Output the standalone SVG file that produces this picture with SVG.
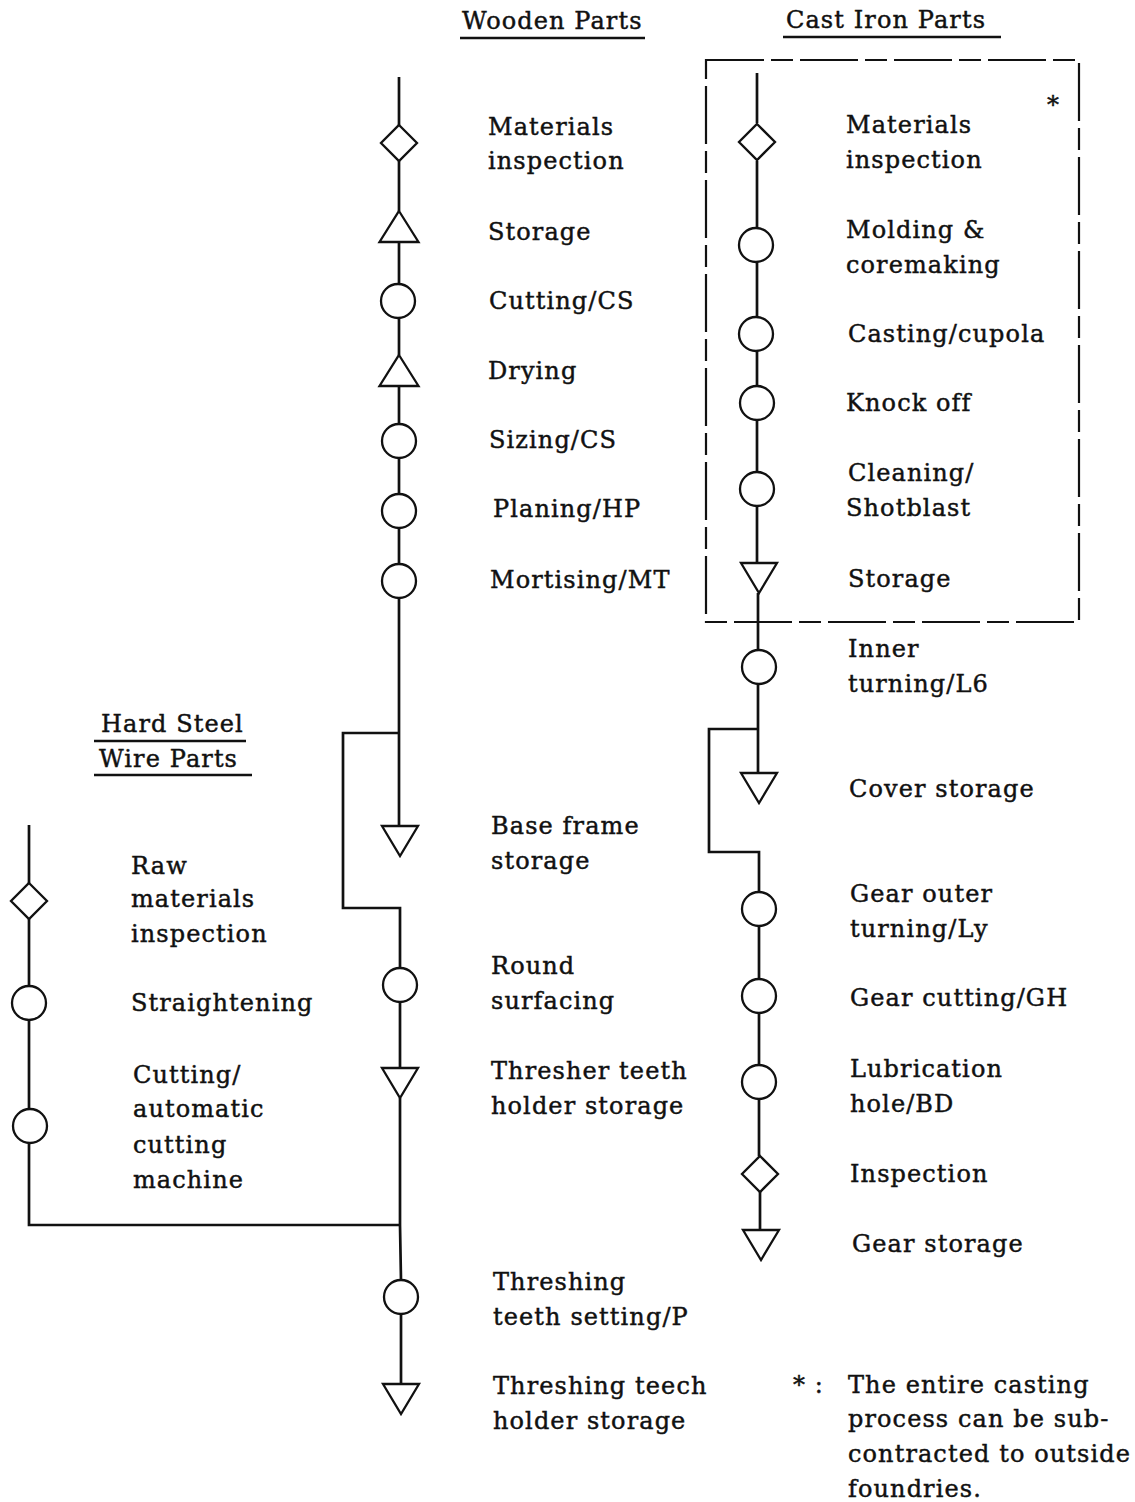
<svg xmlns="http://www.w3.org/2000/svg" xmlns:xlink="http://www.w3.org/1999/xlink" width="1135" height="1502" viewBox="0 0 1135 1502">
  <style>
    .lbl { font-family: "DejaVu Serif", "Liberation Serif", serif; font-size: 24px; letter-spacing: 1.1px; fill: #111; stroke: #111; stroke-width: 0.45px; }
    .hdr { font-family: "DejaVu Serif", "Liberation Serif", serif; font-size: 24px; letter-spacing: 1.1px; fill: #111; stroke: #111; stroke-width: 0.45px; }
    .ln { fill: none; stroke: #111; stroke-width: 2.7; }
    .sym { fill: #fff; stroke: #111; stroke-width: 2.3; }
    .ul { stroke: #111; stroke-width: 2.3; }
    .box { fill: none; stroke: #111; stroke-width: 2.2; stroke-dasharray: 58 7 22 7; }
  </style>
  <defs>
    <!-- operation -->
    <circle id="op" cx="0" cy="0" r="17" class="sym"/>
    <!-- inspection -->
    <polygon id="insp" points="0,-18 18,0 0,18 -18,0" class="sym"/>
    <!-- storage / delay (upward) -->
    <polygon id="up" points="0,-15.5 19.5,15.5 -19.5,15.5" class="sym"/>
    <!-- storage (downward) -->
    <polygon id="down" points="-18,-15 18,-15 0,15" class="sym"/>
  </defs>

  <rect width="1135" height="1502" fill="#fff"/>

  <!-- column headings -->
  <g id="headings">
    <text class="hdr" x="462" y="29">Wooden Parts</text>
    <line class="ul" x1="460" y1="38" x2="645" y2="38"/>
    <text class="hdr" x="786" y="28">Cast Iron Parts</text>
    <line class="ul" x1="783" y1="37" x2="1001" y2="37"/>
    <text class="hdr" x="101" y="732">Hard Steel</text>
    <line class="ul" x1="94" y1="741" x2="246" y2="741"/>
    <text class="hdr" x="99" y="767">Wire Parts</text>
    <line class="ul" x1="94" y1="775" x2="252" y2="775"/>
  </g>

  <!-- subcontract boundary -->
  <rect id="casting-box" class="box" x="706" y="60" width="373" height="562"/>

  <!-- flow lines -->
  <g id="connectors">
    <!-- wooden parts -->
    <path class="ln" d="M399,77 V125 M399,161 V211 M399,242 V284 M399,318 V355 M399,386 V424 M399,458 V494 M399,528 V564 M399,598 V826"/>
    <path class="ln" d="M399,733 H343 V908 H400 V968"/>
    <path class="ln" d="M400,1002 V1068 M400,1098 V1225 L401,1280 M401,1314 V1384"/>
    <!-- hard steel wire parts -->
    <path class="ln" d="M29,825 V883 M29,919 V986 M29,1020 V1109 M29,1143 V1225 H400"/>
    <!-- cast iron parts -->
    <path class="ln" d="M757,73 V123 M757,161 V228 M757,262 V317 M757,351 V386 M757,420 V472 M757,506 V563 M758,593 V650 M758,684 V773"/>
    <path class="ln" d="M758,729 H709 V852 H759 V892"/>
    <path class="ln" d="M759,926 V979 M759,1013 V1065 M759,1099 V1156 M760,1192 V1230"/>
  </g>

  <!-- wooden parts -->
  <g id="w-materials-inspection"><use xlink:href="#insp" x="399" y="143"/>
    <text class="lbl" x="488" y="135">Materials</text><text class="lbl" x="488" y="169">inspection</text></g>
  <g id="w-storage"><use xlink:href="#up" x="399" y="226.5"/>
    <text class="lbl" x="488" y="240">Storage</text></g>
  <g id="w-cutting"><use xlink:href="#op" x="398" y="301"/>
    <text class="lbl" x="489" y="309">Cutting/CS</text></g>
  <g id="w-drying"><use xlink:href="#up" x="399" y="370.5"/>
    <text class="lbl" x="488" y="379">Drying</text></g>
  <g id="w-sizing"><use xlink:href="#op" x="399" y="441"/>
    <text class="lbl" x="489" y="448">Sizing/CS</text></g>
  <g id="w-planing"><use xlink:href="#op" x="399" y="511"/>
    <text class="lbl" x="493" y="517">Planing/HP</text></g>
  <g id="w-mortising"><use xlink:href="#op" x="399" y="581"/>
    <text class="lbl" x="490" y="588">Mortising/MT</text></g>
  <g id="w-base-frame-storage"><use xlink:href="#down" x="400" y="841"/>
    <text class="lbl" x="491" y="834">Base frame</text><text class="lbl" x="491" y="869">storage</text></g>
  <g id="w-round-surfacing"><use xlink:href="#op" x="400" y="985"/>
    <text class="lbl" x="491" y="974">Round</text><text class="lbl" x="491" y="1009">surfacing</text></g>
  <g id="w-holder-storage"><use xlink:href="#down" x="400" y="1083"/>
    <text class="lbl" x="491" y="1079">Thresher teeth</text><text class="lbl" x="491" y="1114">holder storage</text></g>
  <g id="w-teeth-setting"><use xlink:href="#op" x="401" y="1297"/>
    <text class="lbl" x="493" y="1290">Threshing</text><text class="lbl" x="493" y="1325">teeth setting/P</text></g>
  <g id="w-final-storage"><use xlink:href="#down" x="401" y="1399"/>
    <text class="lbl" x="493" y="1394">Threshing teech</text><text class="lbl" x="493" y="1429">holder storage</text></g>

  <!-- hard steel wire parts -->
  <g id="h-inspection"><use xlink:href="#insp" x="29" y="901"/>
    <text class="lbl" x="131" y="874">Raw</text><text class="lbl" x="131" y="907">materials</text><text class="lbl" x="131" y="942">inspection</text></g>
  <g id="h-straightening"><use xlink:href="#op" x="29" y="1003"/>
    <text class="lbl" x="131" y="1011" letter-spacing="0.5">Straightening</text></g>
  <g id="h-cutting"><use xlink:href="#op" x="30" y="1126"/>
    <text class="lbl" x="133" y="1083">Cutting/</text><text class="lbl" x="133" y="1117">automatic</text><text class="lbl" x="133" y="1153">cutting</text><text class="lbl" x="133" y="1188">machine</text></g>

  <!-- cast iron parts -->
  <g id="c-materials-inspection"><use xlink:href="#insp" x="757" y="142"/>
    <text class="lbl" x="846" y="133">Materials</text><text class="lbl" x="846" y="168">inspection</text>
    <text class="lbl" x="1047" y="113">*</text></g>
  <g id="c-molding"><use xlink:href="#op" x="756" y="245"/>
    <text class="lbl" x="846" y="238">Molding &amp;</text><text class="lbl" x="846" y="273">coremaking</text></g>
  <g id="c-casting"><use xlink:href="#op" x="756" y="334"/>
    <text class="lbl" x="848" y="342">Casting/cupola</text></g>
  <g id="c-knock-off"><use xlink:href="#op" x="757" y="403"/>
    <text class="lbl" x="846" y="411">Knock off</text></g>
  <g id="c-cleaning"><use xlink:href="#op" x="757" y="489"/>
    <text class="lbl" x="848" y="481">Cleaning/</text><text class="lbl" x="846" y="516">Shotblast</text></g>
  <g id="c-storage"><use xlink:href="#down" x="759" y="578"/>
    <text class="lbl" x="848" y="587">Storage</text></g>
  <g id="c-inner-turning"><use xlink:href="#op" x="759" y="667"/>
    <text class="lbl" x="848" y="657">Inner</text><text class="lbl" x="848" y="692">turning/L6</text></g>
  <g id="c-cover-storage"><use xlink:href="#down" x="759" y="788"/>
    <text class="lbl" x="849" y="797">Cover storage</text></g>
  <g id="c-gear-outer"><use xlink:href="#op" x="759" y="909"/>
    <text class="lbl" x="850" y="902">Gear outer</text><text class="lbl" x="850" y="937">turning/Ly</text></g>
  <g id="c-gear-cutting"><use xlink:href="#op" x="759" y="996"/>
    <text class="lbl" x="850" y="1006">Gear cutting/GH</text></g>
  <g id="c-lubrication"><use xlink:href="#op" x="759" y="1082"/>
    <text class="lbl" x="850" y="1077">Lubrication</text><text class="lbl" x="850" y="1112">hole/BD</text></g>
  <g id="c-inspection"><use xlink:href="#insp" x="760" y="1174"/>
    <text class="lbl" x="850" y="1182">Inspection</text></g>
  <g id="c-gear-storage"><use xlink:href="#down" x="761" y="1245"/>
    <text class="lbl" x="852" y="1252">Gear storage</text></g>

  <!-- footnote -->
  <g id="footnote">
    <text class="lbl" x="793" y="1393">* :</text>
    <text class="lbl" x="848" y="1393">The entire casting</text>
    <text class="lbl" x="848" y="1427">process can be sub-</text>
    <text class="lbl" x="848" y="1462">contracted to outside</text>
    <text class="lbl" x="848" y="1497">foundries.</text>
  </g>
</svg>
